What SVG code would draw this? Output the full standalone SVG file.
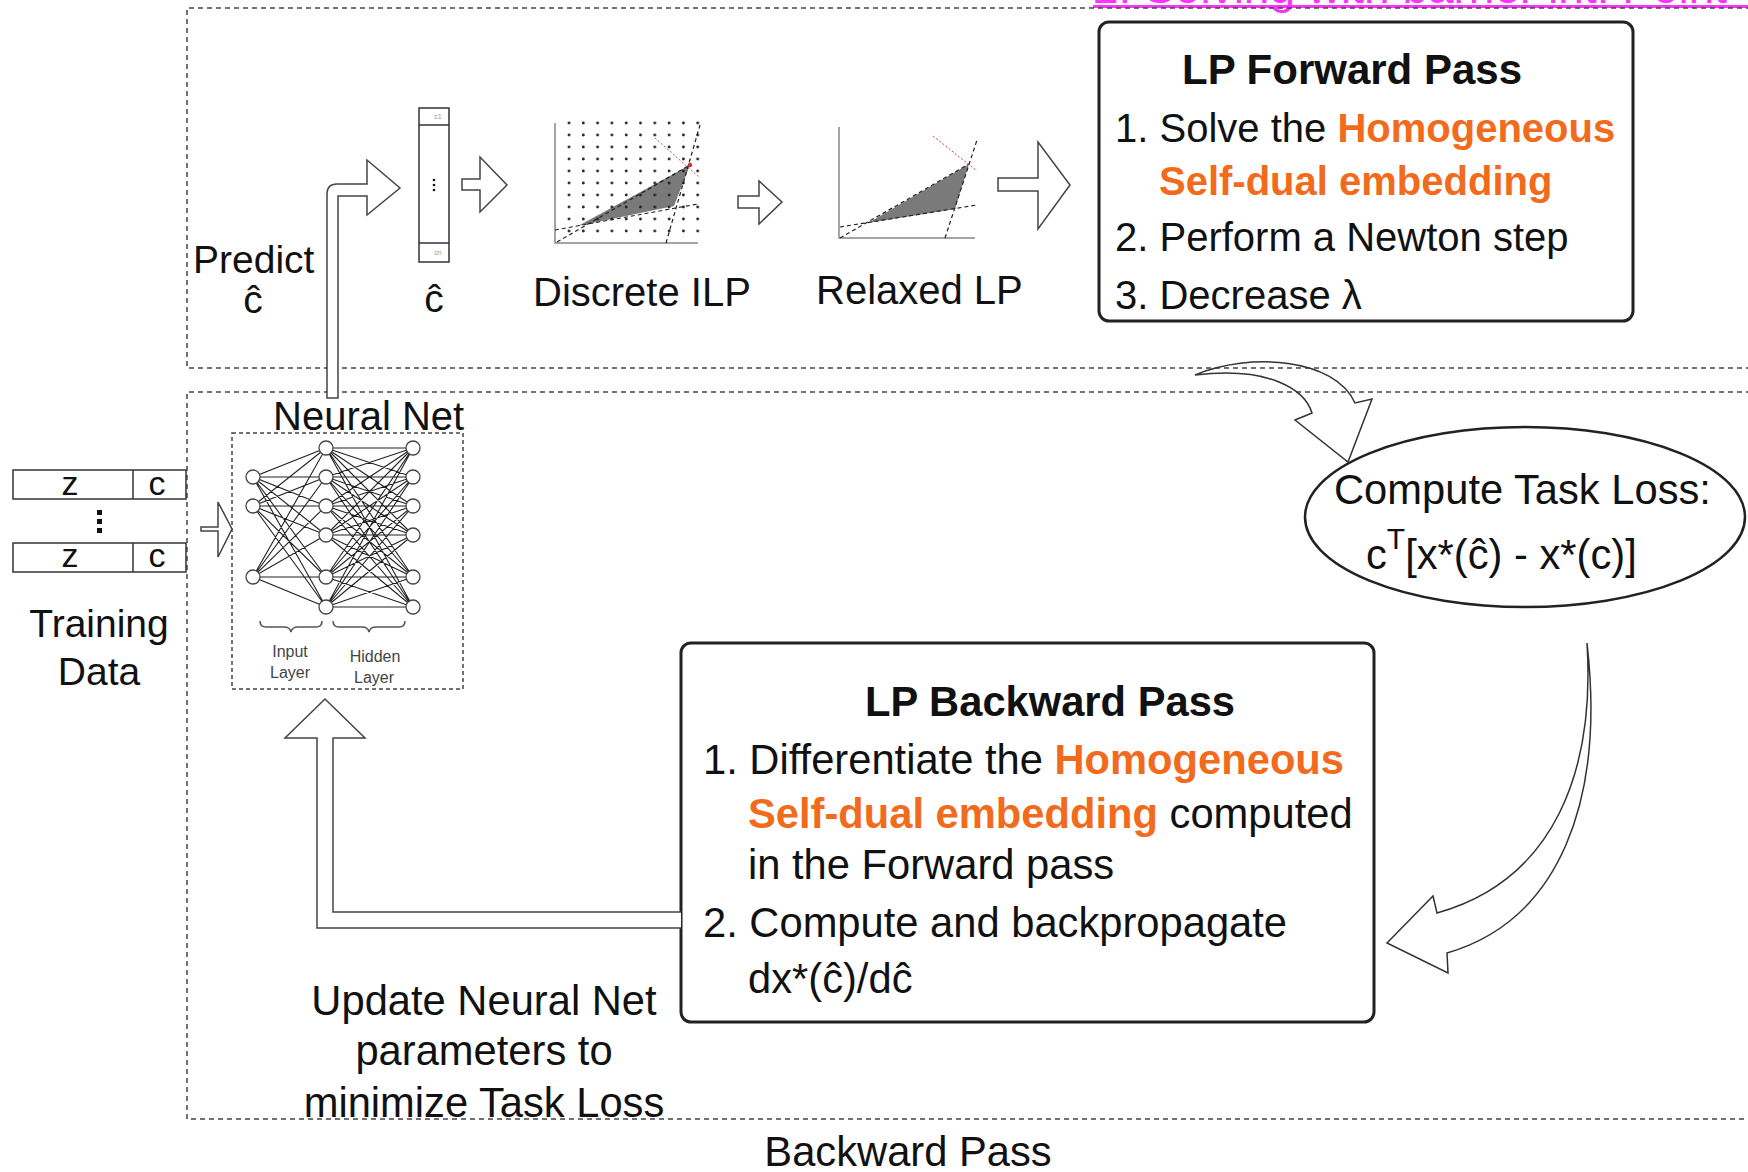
<svg xmlns="http://www.w3.org/2000/svg" width="1748" height="1172" viewBox="0 0 1748 1172">
  <style>
    .t { font-family: "Liberation Sans", Arial, sans-serif; fill: #111; }
    .lbl { font-size: 40px; }
    .lg { font-size: 41.7px; }
    .b { font-weight: bold; }
    .or { fill: #f26b1d; font-weight: bold; }
    .tiny { font-size: 16px; fill: #444; }
    .dash { fill: none; stroke: #444; stroke-width: 1.5; stroke-dasharray: 5 4; }
    .blk { fill: #fff; stroke: #444; stroke-width: 1.5; stroke-linejoin: miter; }
    .curv { fill: none; stroke: #333; stroke-width: 1.5; stroke-linejoin: miter; }
    .box { fill: #fff; stroke: #222; stroke-width: 3; }
    .edge { fill: none; stroke: #222; stroke-width: 1.1; }
    .node { fill: #fff; stroke: #444; stroke-width: 1.3; }
    .axis { stroke: #888; stroke-width: 1.5; fill: none; }
    .cons { stroke: #222; stroke-width: 1.2; stroke-dasharray: 4 3; fill: none; }
    .obj { stroke: #e04040; stroke-width: 1; stroke-dasharray: 2 2; fill: none; }
    .cell { fill: #fff; stroke: #333; stroke-width: 1.5; }
  </style>
  <defs>
    <pattern id="lattice" x="562" y="117" width="14.3" height="12" patternUnits="userSpaceOnUse">
      <circle cx="7" cy="6" r="1.4" fill="#222"/>
    </pattern>
  </defs>

  <rect width="1748" height="1172" fill="#fff"/>

  <!-- section header link (runs off the top edge) -->
  <g id="section-title">
    <text class="t" x="1093" y="3" style="font-size:46px; fill:#ff33ff">2. Solving with barrier int. Point</text>
    <rect x="1093" y="5" width="660" height="3" fill="#ff33ff"/>
  </g>

  <!-- forward and backward panels -->
  <g id="forward-panel">
    <path class="dash" d="M1760,8 H187 V368 H1760"/>
  </g>
  <g id="backward-panel">
    <path class="dash" d="M1760,392 H187 V1119 H1760"/>
    <text class="t lg" x="908" y="1166" text-anchor="middle">Backward Pass</text>
  </g>

  <!-- training data -->
  <g id="training-data">
    <rect class="cell" x="13" y="470" width="173" height="29"/>
    <line x1="133" y1="470" x2="133" y2="499" stroke="#333" stroke-width="1.5"/>
    <rect class="cell" x="13" y="543" width="173" height="29"/>
    <line x1="133" y1="543" x2="133" y2="572" stroke="#333" stroke-width="1.5"/>
    <text class="t" x="70" y="495" text-anchor="middle" style="font-size:34px">z</text>
    <text class="t" x="157" y="495" text-anchor="middle" style="font-size:34px">c</text>
    <text class="t" x="70" y="567" text-anchor="middle" style="font-size:34px">z</text>
    <text class="t" x="157" y="567" text-anchor="middle" style="font-size:34px">c</text>
    <rect x="97" y="510" width="5" height="5" fill="#111"/>
    <rect x="97" y="519" width="5" height="5" fill="#111"/>
    <rect x="97" y="528" width="5" height="5" fill="#111"/>
    <text class="t" x="99" y="637" text-anchor="middle" style="font-size:39px">Training</text>
    <text class="t" x="99" y="685" text-anchor="middle" style="font-size:39px">Data</text>
  </g>

  <!-- neural network -->
  <g id="neural-net">
    <text class="t lbl" x="273" y="430">Neural Net</text>
    <rect x="232" y="433" width="231" height="256" fill="none" stroke="#444" stroke-width="1.5" stroke-dasharray="4 3"/>
    <path class="edge" d="M253 477L326 448M253 477L326 477M253 477L326 506M253 477L326 535M253 477L326 577M253 477L326 607
      M253 506L326 448M253 506L326 477M253 506L326 506M253 506L326 535M253 506L326 577M253 506L326 607
      M253 577L326 448M253 577L326 477M253 577L326 506M253 577L326 535M253 577L326 577M253 577L326 607
      M326 448L413 448M326 448L413 477M326 448L413 506M326 448L413 535M326 448L413 577M326 448L413 607
      M326 477L413 448M326 477L413 477M326 477L413 506M326 477L413 535M326 477L413 577M326 477L413 607
      M326 506L413 448M326 506L413 477M326 506L413 506M326 506L413 535M326 506L413 577M326 506L413 607
      M326 535L413 448M326 535L413 477M326 535L413 506M326 535L413 535M326 535L413 577M326 535L413 607
      M326 577L413 448M326 577L413 477M326 577L413 506M326 577L413 535M326 577L413 577M326 577L413 607
      M326 607L413 448M326 607L413 477M326 607L413 506M326 607L413 535M326 607L413 577M326 607L413 607"/>
    <g class="node">
      <circle cx="253" cy="477" r="7"/><circle cx="253" cy="506" r="7"/><circle cx="253" cy="577" r="7"/>
      <circle cx="326" cy="448" r="7"/><circle cx="326" cy="477" r="7"/><circle cx="326" cy="506" r="7"/>
      <circle cx="326" cy="535" r="7"/><circle cx="326" cy="577" r="7"/><circle cx="326" cy="607" r="7"/>
      <circle cx="413" cy="448" r="7"/><circle cx="413" cy="477" r="7"/><circle cx="413" cy="506" r="7"/>
      <circle cx="413" cy="535" r="7"/><circle cx="413" cy="577" r="7"/><circle cx="413" cy="607" r="7"/>
    </g>
    <path d="M260,621 q0,6 6,6 h18 q6,0 7,5 q1,-5 7,-5 h18 q6,0 6,-6" fill="none" stroke="#555" stroke-width="1.5"/>
    <path d="M333,621 q0,6 6,6 h23 q6,0 7,5 q1,-5 7,-5 h23 q6,0 6,-6" fill="none" stroke="#555" stroke-width="1.5"/>
    <text class="t tiny" x="290" y="657" text-anchor="middle">Input</text>
    <text class="t tiny" x="290" y="678" text-anchor="middle">Layer</text>
    <text class="t tiny" x="375" y="662" text-anchor="middle">Hidden</text>
    <text class="t tiny" x="374" y="683" text-anchor="middle">Layer</text>
  </g>

  <!-- prediction label -->
  <g id="predict-label">
    <text class="t" x="193" y="273" style="font-size:39px">Predict</text>
    <text class="t" x="253" y="313" text-anchor="middle" style="font-size:39px">ĉ</text>
  </g>

  <!-- predicted cost vector -->
  <g id="cost-vector">
    <rect x="419" y="108" width="30" height="154" fill="#fff" stroke="#333" stroke-width="1.5"/>
    <line x1="419" y1="125" x2="449" y2="125" stroke="#333" stroke-width="1.5"/>
    <line x1="419" y1="243" x2="449" y2="243" stroke="#333" stroke-width="1.5"/>
    <text class="t" x="438" y="119" text-anchor="middle" style="font-size:7px; fill:#999">c1</text>
    <text class="t" x="438" y="255" text-anchor="middle" style="font-size:7px; fill:#999">cn</text>
    <circle cx="434" cy="180" r="1.3" fill="#111"/>
    <circle cx="434" cy="185" r="1.3" fill="#111"/>
    <circle cx="434" cy="190" r="1.3" fill="#111"/>
    <text class="t" x="434" y="312" text-anchor="middle" style="font-size:39px">ĉ</text>
  </g>

  <!-- integer program sketch -->
  <g id="discrete-ilp">
    <polyline class="axis" points="555,123 555,243 698,243"/>
    <polygon points="578,226 690,165 674,206" fill="#7a7a7a"/>
    <rect x="562" y="117" width="143" height="120" fill="url(#lattice)"/>
    <line class="cons" x1="557" y1="242" x2="690" y2="165"/>
    <line class="cons" x1="555" y1="230" x2="698" y2="204"/>
    <line class="cons" x1="666" y1="243" x2="700" y2="125"/>
    <line class="obj" x1="655" y1="138" x2="700" y2="178"/>
    <circle cx="690" cy="165" r="2.2" fill="#d03030"/>
    <text class="t lbl" x="533" y="306">Discrete ILP</text>
  </g>

  <!-- relaxed program sketch -->
  <g id="relaxed-lp">
    <polyline class="axis" points="839,127 839,238 975,238"/>
    <polygon points="868,223 969,164 955,209" fill="#7a7a7a"/>
    <line class="cons" x1="840" y1="238" x2="969" y2="164"/>
    <line class="cons" x1="840" y1="227" x2="977" y2="205"/>
    <line class="cons" x1="945" y1="238" x2="977" y2="140"/>
    <line class="obj" x1="933" y1="136" x2="977" y2="171"/>
    <text class="t lbl" x="816" y="304">Relaxed LP</text>
  </g>

  <!-- forward pass box -->
  <g id="lp-forward">
    <rect class="box" x="1099" y="22" width="534" height="299" rx="10"/>
    <text class="t b" x="1182" y="84" style="font-size:42px">LP Forward Pass</text>
    <text class="t lbl" x="1115" y="142">1. Solve the <tspan class="or">Homogeneous</tspan></text>
    <text class="t lbl or" x="1159" y="195">Self-dual embedding</text>
    <text class="t lbl" x="1115" y="251">2. Perform a Newton step</text>
    <text class="t lbl" x="1115" y="309">3. Decrease λ</text>
  </g>

  <!-- task loss -->
  <g id="task-loss">
    <ellipse cx="1525" cy="517" rx="220" ry="90" fill="#fff" stroke="#222" stroke-width="2.5"/>
    <text class="t lg" x="1334" y="504">Compute Task Loss:</text>
    <text class="t lg" x="1366" y="569">c<tspan dy="-20" style="font-size:30px">T</tspan><tspan dy="20">[x*(ĉ) - x*(c)]</tspan></text>
  </g>

  <!-- backward pass box -->
  <g id="lp-backward">
    <rect class="box" x="681" y="643" width="693" height="379" rx="10"/>
    <text class="t lg b" x="865" y="716">LP Backward Pass</text>
    <text class="t lg" x="703" y="774">1. Differentiate the <tspan class="or">Homogeneous</tspan></text>
    <text class="t lg" x="748" y="828"><tspan class="or">Self-dual embedding</tspan> computed</text>
    <text class="t lg" x="748" y="879">in the Forward pass</text>
    <text class="t lg" x="703" y="937">2. Compute and backpropagate</text>
    <text class="t lg" x="748" y="993">dx*(ĉ)/dĉ</text>
  </g>

  <!-- update label -->
  <g id="update-label">
    <text class="t lg" x="484" y="1015" text-anchor="middle">Update Neural Net</text>
    <text class="t lg" x="484" y="1065" text-anchor="middle">parameters to</text>
    <text class="t lg" x="484" y="1117" text-anchor="middle">minimize Task Loss</text>
  </g>

  <!-- block arrows between the stages -->
  <g id="connectors">
    <path class="blk" d="M201,527 L218,527 L218,502 L232,529 L218,557 L218,531 L201,531 Z"/>
    <path class="blk" d="M327,398 L327,194 Q327,184 337,184 L367,184 L367,160 L400,188 L367,215 L367,196 L338,196 L338,398 Z"/>
    <path class="blk" d="M462,179 L480,179 L480,157 L507,185 L480,212 L480,190 L462,190 Z"/>
    <path class="blk" d="M738,196 L759,196 L759,181 L782,202 L759,224 L759,208 L738,208 Z"/>
    <path class="blk" d="M998,178 L1038,178 L1038,142 L1070,185 L1038,229 L1038,191 L998,191 Z"/>
    <path class="curv" d="M1195,375 C1250,352 1335,358 1355,403 L1372,399 L1348,462 L1295,420 L1312,413 C1305,390 1270,366 1195,375 Z"/>
    <path class="curv" d="M1587,643 C1605,800 1560,920 1447,953 L1448,973 L1387,943 L1433,896 L1437,913 C1555,880 1595,770 1587,643 Z"/>
    <path class="blk" d="M681,928 L317,928 L317,738 L285,738 L325,699 L365,738 L333,738 L333,912 L681,912"/>
  </g>
</svg>
